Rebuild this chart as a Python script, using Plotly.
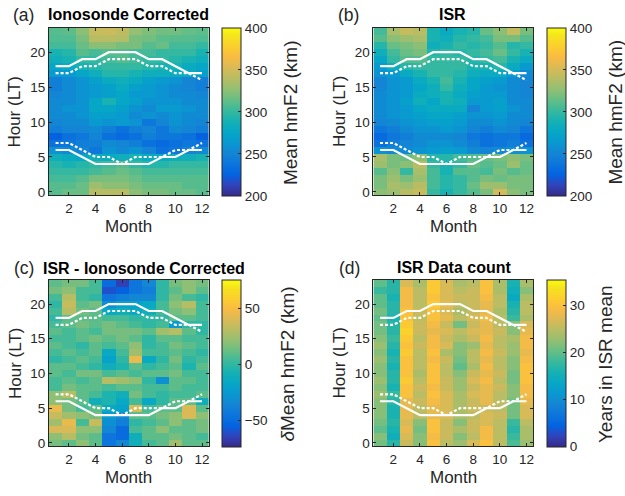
import plotly.graph_objects as go

months = list(range(1, 13))
hours = list(range(0, 24))

# Sunrise/sunset boundary lines (hour LT)
sunset_solid = [18, 18, 19, 19, 20, 20, 20, 19, 19, 18, 17, 17]
sunset_dotted = [17, 17, 18, 18, 19, 19, 19, 18, 18, 17, 17, 16]
sunrise_solid = [6, 6, 5, 4, 4, 4, 4, 4, 5, 5, 6, 6]
sunrise_dotted = [7, 7, 6, 5, 5, 4, 5, 5, 5, 6, 6, 7]

# (a) Ionosonde corrected mean hmF2 (km), rows = hour 0..23, cols = month 1..12
iono = [
    [310, 315, 315, 340, 340, 340, 325, 320, 320, 315, 315, 310],
    [310, 310, 315, 330, 325, 325, 320, 315, 315, 315, 310, 310],
    [305, 305, 310, 320, 320, 320, 315, 310, 310, 310, 310, 310],
    [300, 300, 300, 305, 310, 315, 310, 305, 305, 305, 305, 305],
    [295, 290, 295, 300, 305, 310, 300, 295, 295, 300, 300, 300],
    [285, 280, 275, 285, 280, 285, 290, 280, 280, 285, 285, 290],
    [260, 255, 250, 240, 260, 255, 260, 250, 235, 240, 250, 255],
    [235, 240, 245, 245, 255, 250, 245, 235, 230, 235, 240, 235],
    [225, 235, 240, 250, 235, 230, 235, 245, 240, 240, 235, 225],
    [245, 250, 250, 255, 245, 235, 245, 250, 240, 255, 250, 245],
    [250, 255, 255, 265, 260, 265, 260, 240, 250, 260, 255, 250],
    [255, 255, 260, 270, 270, 265, 255, 260, 255, 260, 255, 255],
    [255, 260, 260, 275, 275, 270, 260, 255, 265, 265, 260, 255],
    [255, 255, 260, 275, 290, 275, 270, 260, 260, 260, 255, 255],
    [250, 255, 260, 265, 270, 275, 265, 265, 260, 255, 255, 250],
    [245, 255, 260, 265, 270, 280, 270, 265, 260, 255, 250, 245],
    [245, 255, 260, 270, 280, 285, 280, 270, 265, 260, 250, 245],
    [265, 265, 275, 285, 295, 295, 290, 285, 285, 280, 280, 270],
    [275, 280, 290, 295, 300, 300, 300, 295, 290, 290, 280, 275],
    [285, 290, 300, 300, 305, 310, 305, 300, 300, 295, 290, 285],
    [290, 295, 310, 305, 310, 310, 305, 305, 300, 300, 300, 290],
    [305, 305, 315, 325, 325, 320, 320, 310, 315, 305, 305, 300],
    [308, 308, 320, 340, 340, 338, 320, 318, 312, 310, 310, 308],
    [310, 312, 325, 345, 347, 342, 328, 322, 318, 318, 314, 312],
]

# (b) ISR mean hmF2 (km)
isr = [
    [325, 330, 340, 345, 300, 290, 300, 310, 320, 350, 325, 320],
    [320, 335, 330, 340, 305, 295, 300, 315, 330, 330, 320, 320],
    [320, 330, 320, 330, 305, 295, 300, 310, 320, 315, 320, 320],
    [310, 325, 300, 335, 305, 290, 310, 310, 305, 320, 310, 315],
    [330, 320, 325, 340, 300, 290, 300, 315, 310, 315, 330, 315],
    [335, 320, 315, 325, 295, 295, 305, 310, 315, 320, 325, 320],
    [260, 255, 255, 260, 265, 270, 265, 255, 250, 255, 260, 260],
    [235, 245, 250, 255, 260, 260, 255, 245, 235, 240, 245, 235],
    [230, 240, 245, 255, 255, 255, 250, 240, 235, 240, 240, 230],
    [240, 245, 255, 260, 260, 265, 260, 250, 245, 255, 250, 240],
    [250, 255, 260, 265, 270, 270, 265, 255, 255, 260, 255, 250],
    [255, 260, 265, 270, 275, 275, 270, 260, 260, 265, 255, 255],
    [255, 260, 265, 275, 280, 280, 280, 250, 265, 270, 260, 255],
    [255, 260, 270, 285, 275, 290, 285, 265, 265, 270, 255, 255],
    [255, 260, 265, 280, 285, 290, 280, 270, 265, 265, 255, 250],
    [250, 260, 265, 275, 285, 300, 285, 275, 265, 260, 255, 250],
    [250, 260, 265, 280, 290, 305, 290, 275, 270, 265, 255, 250],
    [260, 265, 280, 290, 300, 300, 295, 285, 280, 280, 265, 255],
    [265, 285, 295, 300, 300, 300, 300, 290, 290, 295, 280, 265],
    [275, 300, 310, 310, 300, 300, 300, 295, 300, 305, 290, 280],
    [285, 305, 315, 320, 295, 300, 295, 300, 305, 315, 300, 290],
    [295, 315, 320, 325, 285, 290, 300, 295, 300, 310, 295, 300],
    [310, 325, 330, 335, 290, 285, 295, 300, 305, 320, 320, 310],
    [305, 335, 345, 340, 290, 280, 290, 295, 315, 325, 345, 320],
]

# (c) ISR - Ionosonde corrected (km)
diff = [
    [15, 10, 20, 10, -45, -35, -10, 5, 10, 25, 10, 10],
    [20, 30, 15, 10, -45, -50, -10, 10, 10, 15, 10, 5],
    [40, 40, 20, 20, -35, -50, 5, 10, 20, 10, 10, 15],
    [25, 45, 5, 35, -30, -40, 0, 5, 10, 20, 10, 15],
    [35, 25, 20, 15, -25, -35, 10, 10, 15, 20, 40, 20],
    [45, 15, 5, 10, -15, -20, 40, 5, 10, 10, 40, 10],
    [20, 15, 10, -10, -5, -15, 5, -15, 0, 10, 10, -10],
    [20, 30, 10, 5, -5, -10, 15, 5, 0, 5, 5, 10],
    [5, 15, 10, 10, 5, 10, 10, 5, 5, 10, 5, 5],
    [5, 10, 5, 10, 30, 25, 20, 0, -30, 10, 10, 5],
    [10, 5, 15, 15, 5, 10, 5, 10, 10, 15, 5, 5],
    [10, 10, 5, 0, -10, -5, 10, 0, 5, 10, -5, 10],
    [0, 5, 10, 5, -20, 0, 45, -15, 0, 15, 0, 5],
    [5, 10, 5, 10, -15, 5, 25, 5, 5, 10, 5, 0],
    [10, 5, 0, 10, 5, 10, 20, 0, 5, 15, 10, 5],
    [5, 5, 10, 15, 10, 15, 10, 0, 10, 10, 5, 5],
    [10, 5, 10, 5, 15, 15, 15, 10, 25, 30, 10, 0],
    [5, 10, 15, 10, 15, 10, 5, 0, 5, -25, 0, 0],
    [0, 10, 10, 10, 5, 5, 0, 0, 0, 10, 10, 5],
    [5, 30, 15, 10, -15, -10, -15, -10, 5, 15, 20, 5],
    [0, 35, 10, 15, -30, -20, -20, -15, 5, 20, 30, 5],
    [5, 30, 5, 0, -45, -40, -35, -35, 0, 15, 5, 0],
    [15, 20, 5, 5, -60, -55, -45, -40, 0, 10, 20, 10],
    [10, 15, 15, 5, -50, -65, -45, -35, 0, 15, 20, 15],
]

# (d) Years in ISR mean
count = [
    [21, 17, 26, 22, 30, 25, 23, 27, 30, 25, 19, 23],
    [22, 15, 27, 22, 29, 26, 22, 25, 29, 25, 18, 24],
    [20, 16, 28, 21, 30, 26, 24, 26, 29, 25, 17, 24],
    [21, 17, 27, 22, 30, 26, 22, 26, 27, 25, 18, 25],
    [22, 16, 28, 25, 28, 27, 24, 25, 27, 26, 21, 27],
    [22, 16, 28, 25, 28, 27, 24, 26, 26, 25, 21, 27],
    [22, 17, 28, 26, 29, 27, 24, 26, 28, 25, 21, 28],
    [23, 18, 30, 25, 30, 27, 24, 27, 28, 25, 22, 29],
    [22, 16, 30, 26, 29, 26, 23, 26, 28, 26, 22, 29],
    [23, 17, 31, 25, 30, 26, 23, 27, 29, 25, 21, 30],
    [22, 17, 30, 24, 30, 25, 22, 26, 28, 26, 21, 30],
    [22, 16, 30, 25, 30, 25, 20, 24, 29, 25, 22, 30],
    [23, 17, 30, 25, 29, 26, 21, 25, 28, 25, 22, 29],
    [22, 16, 31, 25, 30, 24, 22, 25, 29, 26, 23, 28],
    [23, 17, 30, 26, 29, 27, 22, 23, 28, 25, 23, 29],
    [22, 18, 31, 25, 29, 26, 24, 26, 29, 25, 24, 29],
    [21, 17, 32, 26, 28, 27, 25, 27, 28, 26, 22, 28],
    [21, 17, 31, 26, 29, 26, 21, 26, 28, 25, 22, 27],
    [20, 16, 30, 25, 30, 28, 25, 27, 29, 25, 18, 24],
    [21, 17, 30, 26, 30, 27, 24, 26, 28, 24, 17, 25],
    [20, 17, 29, 25, 31, 28, 25, 26, 28, 25, 16, 25],
    [20, 16, 29, 25, 30, 27, 26, 26, 29, 25, 14, 24],
    [18, 17, 29, 25, 31, 27, 25, 26, 30, 24, 15, 22],
    [20, 17, 27, 24, 31, 27, 24, 25, 30, 24, 16, 24],
]

# parula colormap samples
parula_rgb = [
    (0.2081, 0.1663, 0.5292), (0.1959, 0.2645, 0.7279), (0.0117, 0.3875, 0.8820),
    (0.0498, 0.4586, 0.8641), (0.0793, 0.5200, 0.8312), (0.0343, 0.5966, 0.8199),
    (0.0228, 0.6535, 0.7768), (0.0843, 0.6928, 0.7062), (0.2178, 0.7250, 0.6193),
    (0.3953, 0.7459, 0.5244), (0.5709, 0.7485, 0.4494), (0.7184, 0.7411, 0.3905),
    (0.8507, 0.7299, 0.3360), (0.9739, 0.7314, 0.2666), (0.9880, 0.8066, 0.1794),
    (0.9589, 0.8949, 0.1132), (0.9763, 0.9831, 0.0538),
]
parula_idx = [0, 4, 8, 12, 16, 20, 24, 28, 32, 36, 40, 44, 48, 52, 56, 60, 63]
parula = [[i / 63, "rgb(%d,%d,%d)" % tuple(round(c * 255) for c in rgb)]
          for i, rgb in zip(parula_idx, parula_rgb)]

W, H = 625, 496
FONT = "Liberation Sans, Arial, sans-serif"
AX = "#262626"

def fx(p):
    return p / W

def fy(p):
    return 1 - p / H

panels = [
    # data, cmin, cmax, ticks, plot box (x0,x1,y0,y1), colorbar x0, cb title
    (iono, 200, 400, [200, 250, 300, 350, 400], (49, 209, 28, 197), 222, "Mean hmF2 (km)", 291),
    (isr, 200, 400, [200, 250, 300, 350, 400], (374, 534, 28, 197), 548, "Mean hmF2 (km)", 617),
    (diff, -73.5, 75.5, [-50, 0, 50], (49, 209, 282, 450), 222, "<i>δ</i>Mean hmF2 (km)", 288),
    (count, 0, 35.5, [0, 10, 20, 30], (374, 534, 282, 450), 548, "Years in ISR mean", 606),
]

fig = go.Figure()
layout = dict(width=W, height=H, margin=dict(l=0, r=0, t=0, b=0),
              paper_bgcolor="white", plot_bgcolor="white", showlegend=False,
              font=dict(family=FONT, color=AX))
annotations = []

for k, (z, cmin, cmax, cticks, box, cbx, cbtitle, cbtx) in enumerate(panels):
    n = "" if k == 0 else str(k + 1)
    xa, ya = "x" + n, "y" + n
    x0, x1, y0, y1 = box
    fig.add_trace(go.Heatmap(
        z=z, x=months, y=hours, xaxis=xa, yaxis=ya, zmin=cmin, zmax=cmax,
        colorscale=parula, zsmooth=False,
        colorbar=dict(x=fx(cbx), xanchor="left", y=fy(y0), yanchor="top",
                      len=(y1 - y0) / H, lenmode="fraction", thickness=19,
                      thicknessmode="pixels", xpad=0, ypad=0, outlinewidth=1,
                      outlinecolor=AX, ticks="inside", ticklen=3, tickcolor=AX,
                      tickvals=cticks, tickfont=dict(size=13.5, color=AX, family=FONT)),
    ))
    for yy, dash in [(sunset_solid, "solid"), (sunset_dotted, "3px,2px"),
                     (sunrise_solid, "solid"), (sunrise_dotted, "3px,2px")]:
        fig.add_trace(go.Scatter(x=months, y=yy, xaxis=xa, yaxis=ya, mode="lines",
                                 line=dict(color="white", width=2.2, dash=dash),
                                 hoverinfo="skip"))
    axcommon = dict(showline=True, linecolor=AX, linewidth=1, mirror="ticks",
                    ticks="inside", ticklen=3, tickcolor=AX, showgrid=False,
                    zeroline=False, tickfont=dict(size=13.5, color=AX, family=FONT))
    layout["xaxis" + n] = dict(domain=[fx(x0), fx(x1)], anchor=ya, range=[0.5, 12.5],
                               tickvals=[2, 4, 6, 8, 10, 12], **axcommon)
    layout["yaxis" + n] = dict(domain=[fy(y1), fy(y0)], anchor=xa, range=[-0.5, 23.5],
                               tickvals=[0, 5, 10, 15, 20], **axcommon)
    # axis titles
    annotations.append(dict(x=fx((x0 + x1) / 2), y=fy(y1 + 31), text="Month",
                            showarrow=False, font=dict(size=17, color=AX)))
    annotations.append(dict(x=fx(x0 - 34), y=fy((y0 + y1) / 2), text="Hour (LT)",
                            textangle=-90, showarrow=False, font=dict(size=17, color=AX)))
    # colorbar title
    annotations.append(dict(x=fx(cbtx), y=fy((y0 + y1) / 2 + 1), text=cbtitle,
                            textangle=-90, showarrow=False, font=dict(size=19, color=AX)))

titles = [
    ("(a)", 24, 15, False), ("<b>Ionosonde Corrected</b>", 129, 15, True),
    ("(b)", 349.5, 15, False), ("<b>ISR</b>", 453, 15, True),
    ("(c)", 24, 270.5, False), ("<b>ISR - Ionosonde Corrected</b>", 144.5, 270.5, True),
    ("(d)", 350, 270, False), ("<b>ISR Data count</b>", 454.5, 270, True),
]
for text, px, py, bold in titles:
    annotations.append(dict(x=fx(px), y=fy(py), text=text, showarrow=False,
                            font=dict(size=16 if bold else 17.5, color="#000000" if bold else AX)))

for a in annotations:
    a.update(xref="paper", yref="paper", xanchor="center", yanchor="middle")
layout["annotations"] = annotations
fig.update_layout(**layout)
fig.write_html("out.html")
